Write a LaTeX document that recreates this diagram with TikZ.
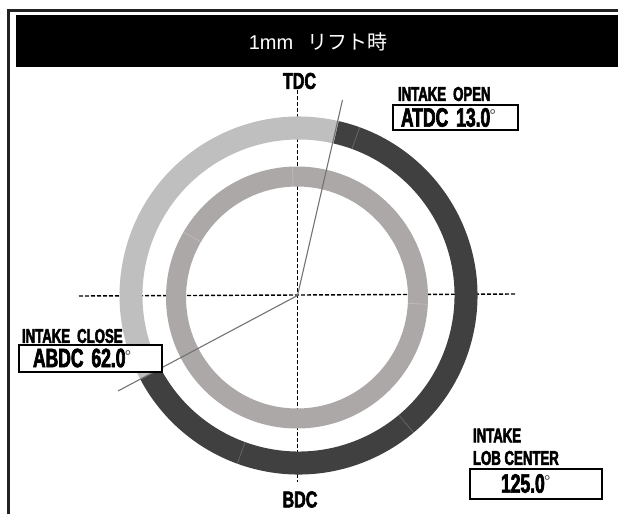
\documentclass[tikz,border=0pt]{standalone}
\usepackage{fontspec}
\usetikzlibrary{calc}
\setmainfont{Liberation Sans}
\newfontfamily\cjkf{Noto Sans CJK JP}
\newfontfamily\impactf[FakeStretch=0.7,FakeBold=2.5]{Liberation Sans Bold}
\newfontfamily\impactn[FakeStretch=0.66,FakeBold=2.5]{Liberation Sans Bold}
\definecolor{darkarc}{HTML}{404040}
\definecolor{lightarc}{HTML}{BFBFBF}
\definecolor{innerarc}{HTML}{ACA8A7}
\definecolor{frameline}{HTML}{222222}
\newcommand{\imp}[2]{{\fontsize{#1}{#1}\selectfont\impactf #2}}
\newcommand{\impn}[2]{{\fontsize{#1}{#1}\selectfont\impactn #2}}
\newcommand{\degs}[1]{\hspace{-1pt}\raisebox{5pt}{\fontsize{#1}{#1}\selectfont\color{black!70}°}}
\tikzset{
  axisline/.style={black,line width=1.4pt,dash pattern=on 4pt off 2pt},
  angleline/.style={draw=gray!90!black,line width=1.1pt},
  seam/.style={draw=white,opacity=.22,line width=.7pt},
  lab/.style={inner sep=0pt,outer sep=0pt,anchor=center,text=black},
  valuebox/.style={draw=black,line width=2pt,fill=white,inner sep=0pt,outer sep=0pt,anchor=north west},
}
\begin{document}
\begin{tikzpicture}[x=1pt,y=-1pt]
\useasboundingbox (0,0) rectangle (618,514);
% frame
\draw[frameline,line width=3pt] (8.5,514) -- (8.5,10) -- (618,10);
% title bar
\node[fill=black,minimum width=602pt,minimum height=52pt,inner sep=0pt,outer sep=0pt,anchor=north west] (bar) at (16,15) {};
\node[lab,text=white] (title) at (318,41.5) {\fontsize{20}{20}\selectfont 1mm\hspace{0.7em}{\cjkf リフト時}};
% axes
\coordinate (ctr) at (297.5,295.5);
\coordinate (hl) at (79,296);
\coordinate (hr) at (516,294);
\coordinate (vt) at (297.5,90);
\coordinate (vb) at (297.5,482);
\draw[axisline] (hl) -- (hr);
\draw[axisline] (vt) -- (vb);
% outer ring (y axis is flipped, so angles are negated)
\coordinate (oc) at (298.5,295.5);
\coordinate (ic) at (297,297.5);
\fill[lightarc] ($(oc)+(-77:179)$) arc[start angle=-77,end angle=-208,radius=179]
  -- ($(oc)+(-208:156)$) arc[start angle=-208,end angle=-77,radius=156] -- cycle;
\fill[darkarc] ($(oc)+(-77:179)$) arc[start angle=-77,end angle=152,radius=179]
  -- ($(oc)+(152:156)$) arc[start angle=152,end angle=-77,radius=156] -- cycle;
% inner ring
\fill[innerarc,even odd rule] (ic) circle[radius=131] (ic) circle[radius=111];
% seams
\draw[seam] ($(oc)+(-70:156)$) -- ($(oc)+(-70:179)$);
\draw[seam] ($(oc)+(110:156)$) -- ($(oc)+(110:179)$);
\draw[seam] ($(oc)+(50:156)$) -- ($(oc)+(50:179)$);
\draw[seam] ($(ic)+(-92:111)$) -- ($(ic)+(-92:131)$);
\draw[seam] ($(ic)+(3:111)$) -- ($(ic)+(3:131)$);
\draw[seam] ($(ic)+(-150:111)$) -- ($(ic)+(-150:131)$);
% angle lines
\coordinate (openend) at (342.5,100);
\coordinate (closeend) at (118,391);
\draw[angleline] (ctr) -- (openend);
\draw[angleline] (ctr) -- (closeend);
% value boxes
\node[valuebox,minimum width=125pt,minimum height=25pt] (openbox) at (393,104.5) {};
\node[valuebox,minimum width=143pt,minimum height=27pt] (closebox) at (18.5,344.5) {};
\node[valuebox,minimum width=132pt,minimum height=30pt] (lobbox) at (469.5,468.5) {};
% labels
\node[lab] (tdc) at (299.5,81) {\imp{23}{TDC}};
\node[lab] (bdc) at (300,499.5) {\imp{23}{BDC}};
\node[lab,anchor=west] (opentxt) at (398,94) {\impn{20}{INTAKE\hspace{.35em}OPEN}};
\node[lab,anchor=west] (closetxt) at (22,336) {\impn{20}{INTAKE\hspace{.35em}CLOSE}};
\node[lab,anchor=west] (lob1) at (473,435.5) {\impn{20}{INTAKE}};
\node[lab,anchor=west] (lob2) at (473,458) {\impn{20}{LOB CENTER}};
\node[lab,anchor=west] (openval) at (401,117.5) {\impn{26.5}{ATDC\hspace{.3em}13.0}\degs{17}};
\node[lab,anchor=west] (closeval) at (33,358) {\impn{26.5}{ABDC\hspace{.3em}62.0}\degs{17}};
\node[lab,anchor=west] (lobval) at (501,483.5) {\impn{26.5}{125.0}\degs{17}};
\end{tikzpicture}
\end{document}
